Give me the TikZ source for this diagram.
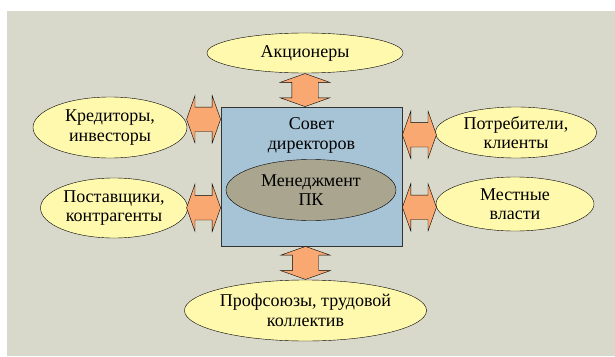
\documentclass[tikz,border=0pt]{standalone}
\usepackage{fontspec}
\setmainfont{Liberation Serif}
\usetikzlibrary{shapes.geometric,shapes.arrows,positioning,calc}

\definecolor{fon}{HTML}{D9D9CB}
\definecolor{zhelt}{HTML}{FFF9AE}
\definecolor{golub}{HTML}{A6C4D6}
\definecolor{oliv}{HTML}{A9A58E}
\definecolor{oranzh}{HTML}{F8A870}

\tikzset{
  txt/.style={inner sep=0pt, align=center, font=\rmfamily\fontsize{18}{19.5}\selectfont},
  krug/.style={txt, ellipse, draw=black, fill=zhelt, thin},
  strelka/.style={double arrow, draw=black, fill=oranzh, thin, inner xsep=0pt,
    double arrow tip angle=141},
  vstrelka/.style={strelka, rotate=90, inner ysep=13pt, minimum height=33pt, double arrow head extend=11.5pt},
  gstrelka/.style={strelka, inner ysep=12pt, minimum height=34pt, double arrow head extend=11.5pt},
}

\begin{document}
\begin{tikzpicture}[x=1pt, y=-1pt]
	  \useasboundingbox (0,0) rectangle (615,356);
	  \fill[fon] (7,11) rectangle (615,356);
	  % sovet direktorov i menedzhment
	  \node[draw=black!80, fill=golub, minimum width=181pt, minimum height=139pt] (sovet) at (311.5,176.5) {};
	  \node[txt, below=11pt of sovet.north] (sovettxt) {Совет\\директоров};
	  \node[txt, ellipse, draw=black, fill=oliv, minimum width=170pt, minimum height=61pt] (menedzh) at (311,190) {Менеджмент\\ПК};
	  % okruzhenie
	  \node[krug, minimum width=196pt, minimum height=40pt] (akcionery) at (305,53) {Акционеры};
	  \node[krug, minimum width=154pt, minimum height=61pt] (kreditory) at (110,127.5) {Кредиторы,\\инвесторы};
	  \node[krug, minimum width=147pt, minimum height=60pt] (postavshiki) at (114,208) {Поставщики,\\контрагенты};
	  \node[krug, minimum width=161pt, minimum height=51pt] (potrebiteli) at (516,132.5) {Потребители,\\клиенты};
	  \node[krug, minimum width=158pt, minimum height=54pt] (vlasti) at (515,204) {Местные\\власти};
	  \node[krug, minimum width=235pt, minimum height=61pt] (profsoyuzy) at (305.5,310.5) {Профсоюзы, трудовой\\коллектив};
	  % strelki
	  \node[vstrelka, anchor=west] (s1) at (akcionery.south |- sovet.north) {};
	  \node[vstrelka, anchor=east] (s2) at (profsoyuzy.north |- sovet.south) {};
	  \node[gstrelka, anchor=east] (s3) at ([yshift=-12.5pt]sovet.north west) {};
	  \node[gstrelka, anchor=east] (s4) at ([yshift=-101pt]sovet.north west) {};
	  \node[gstrelka, anchor=west] (s5) at ([yshift=-28pt]sovet.north east) {};
	  \node[gstrelka, anchor=west] (s6) at ([yshift=-100.5pt]sovet.north east) {};
	\end{tikzpicture}
\end{document}
